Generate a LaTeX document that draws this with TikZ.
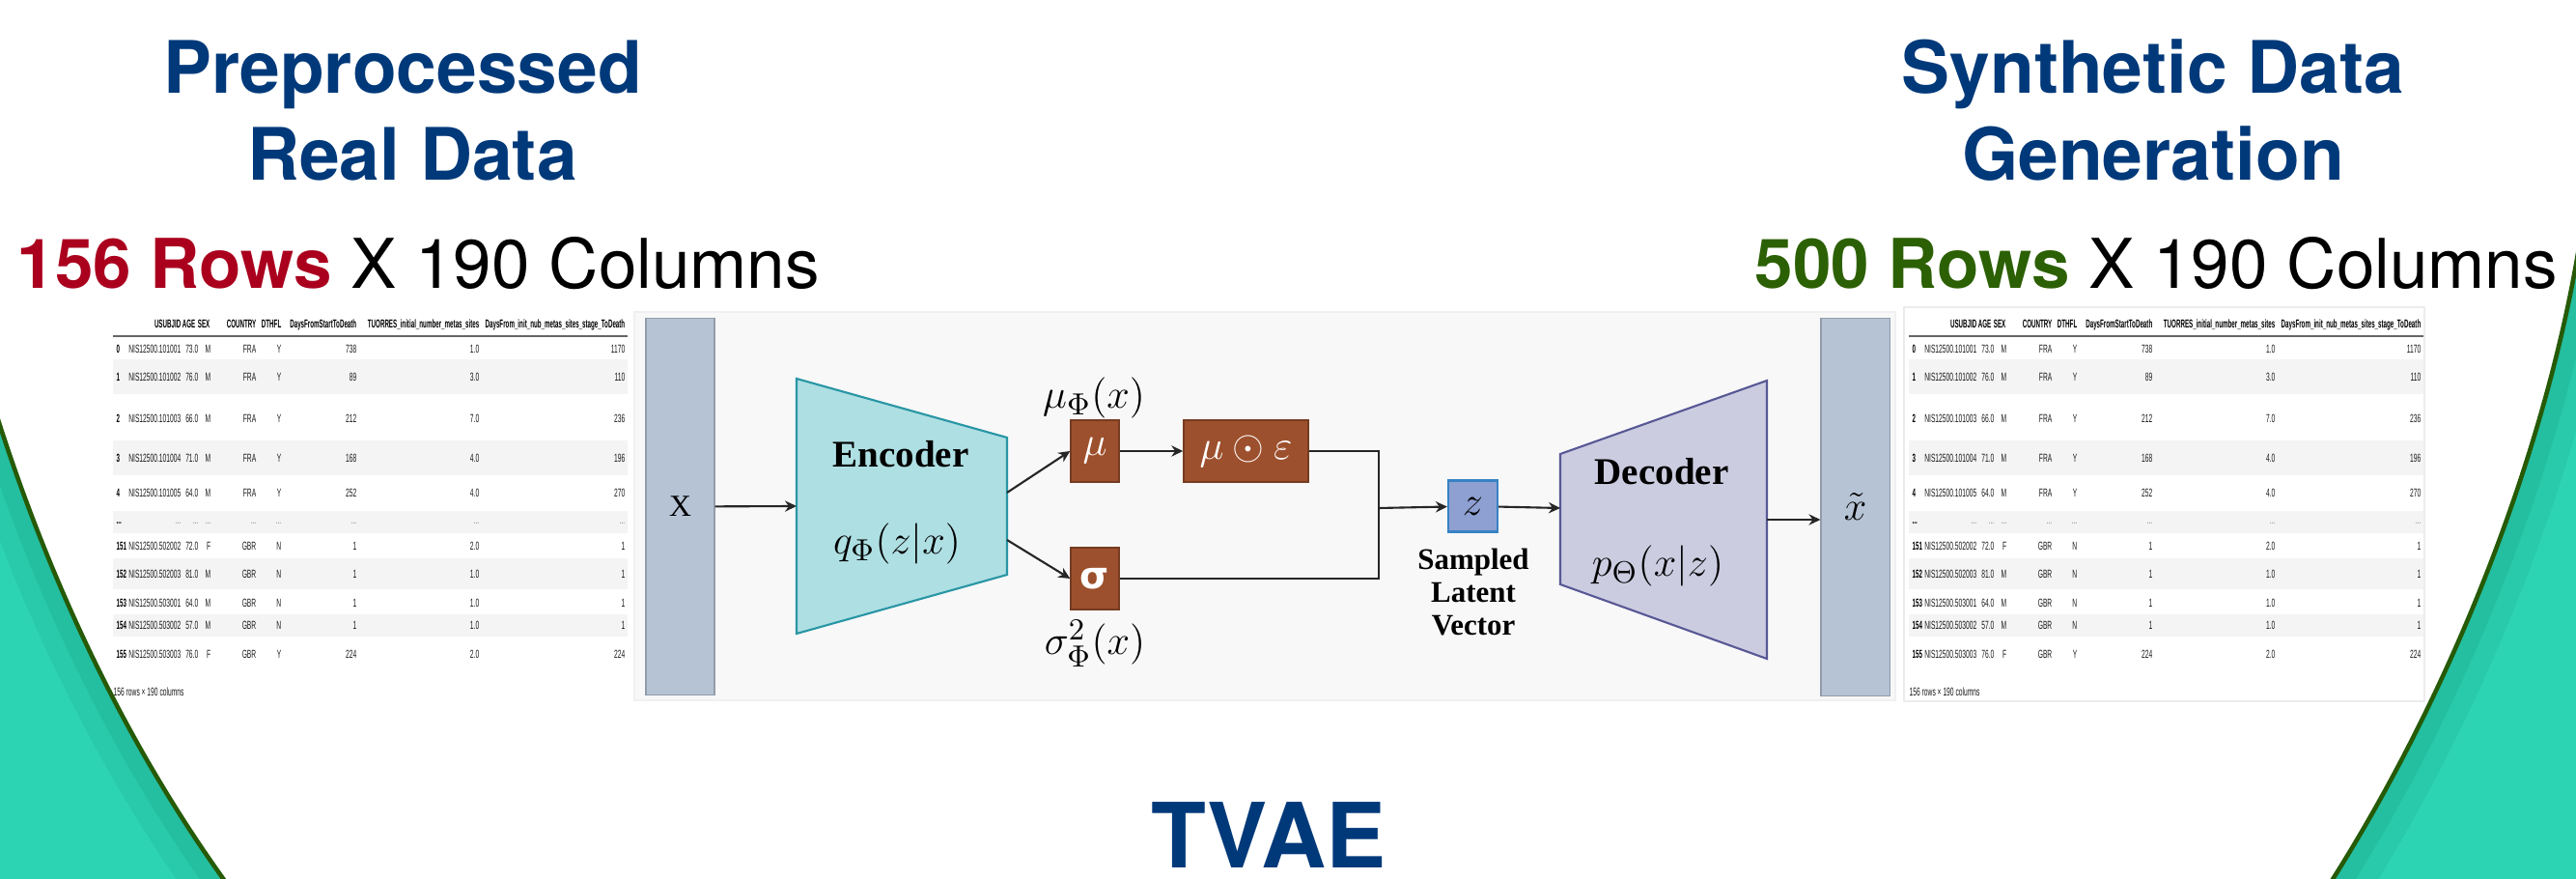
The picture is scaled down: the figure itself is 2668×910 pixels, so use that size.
\documentclass[tikz,border=0pt]{standalone}
\usepackage[no-math]{fontspec}
\usepackage{amsmath}
\usepackage{tikz}
\usetikzlibrary{arrows.meta}

\newfontfamily\heros{TeX Gyre Heros}
\newfontfamily\vaeserif{Liberation Serif}
\newfontfamily\greekbold{DejaVu Sans}
\newfontfamily\tabfont{Liberation Sans}[FakeStretch=0.56]
\newfontfamily\tabhead{Liberation Sans}[FakeStretch=0.52]

\definecolor{titleblue}{RGB}{0,57,122}
\definecolor{realred}{RGB}{170,0,30}
\definecolor{synthgreen}{RGB}{44,96,4}
\definecolor{bgteal}{RGB}{45,212,180}
\definecolor{tealshade}{RGB}{25,160,135}
\definecolor{edgegreen}{RGB}{38,90,6}
\definecolor{barblue}{RGB}{182,195,212}
\definecolor{encfill}{RGB}{174,223,227}
\definecolor{encline}{RGB}{40,150,165}
\definecolor{decfill}{RGB}{204,204,225}
\definecolor{decline}{RGB}{88,88,150}
\definecolor{boxbrown}{RGB}{157,80,45}
\definecolor{zfill}{RGB}{142,160,210}
\definecolor{zline}{RGB}{55,130,195}
\definecolor{stripe}{RGB}{244,244,244}
\definecolor{vaebg}{RGB}{248,248,248}

\begin{document}
\begin{tikzpicture}[x=0.01cm,y=-0.01cm,
  arr/.style={-{Stealth[length=3.4pt,width=3.2pt]},line width=0.6pt,black!85},
  wire/.style={line width=0.6pt,black!85},
  brownbox/.style={draw=boxbrown!75!black,fill=boxbrown,minimum height=0.64cm,inner sep=0pt,text=white,font=\fontsize{12.5}{14}\selectfont},
  databar/.style={draw=barblue!80!black,line width=0.3pt,fill=barblue,minimum width=0.71cm,minimum height=3.9cm,inner sep=0pt},
  mathlbl/.style={inner sep=0pt,font=\fontsize{12.5}{15}\selectfont},
  vaetitle/.style={inner sep=0pt,font=\vaeserif\bfseries\fontsize{11.1}{13}\selectfont},
  bigtitle/.style={inner sep=0pt,anchor=base,text=titleblue,font=\heros\bfseries\fontsize{21.3}{25}\selectfont},
  rowcount/.style={inner sep=0pt,anchor=base west,font=\heros\fontsize{20.2}{24}\selectfont},
  cell/.style={inner sep=0pt,anchor=east,text=black!90,font=\tabfont\fontsize{3.4}{4}\selectfont},
  cellidx/.style={cell,anchor=west,text=black,font=\tabhead\bfseries\fontsize{3.4}{4}\selectfont},
  hdr/.style={cell,anchor=base east,text=black,font=\tabhead\bfseries\fontsize{3.4}{4}\selectfont}]
  \useasboundingbox (0,0) rectangle (2668,910);

  % teal corners
  \begin{scope}
    \clip (-5,425) .. controls (50,600) and (130,770) .. (235,915) -- (-5,915) -- cycle;
    \fill[bgteal] (-5,400) rectangle (240,915);
    \draw[tealshade,opacity=0.2,line width=0.8cm] (-5,425) .. controls (50,600) and (130,770) .. (235,915);
    \draw[tealshade,opacity=0.25,line width=0.4cm] (-5,425) .. controls (50,600) and (130,770) .. (235,915);
  \end{scope}
  \draw[edgegreen,line width=1.3pt] (-5,425) .. controls (50,600) and (130,770) .. (235,915);
  \begin{scope}
    \clip (2672,250) .. controls (2640,450) and (2550,700) .. (2413,915) -- (2672,915) -- cycle;
    \fill[bgteal] (2400,240) rectangle (2672,915);
    \draw[tealshade,opacity=0.2,line width=0.8cm] (2672,250) .. controls (2640,450) and (2550,700) .. (2413,915);
    \draw[tealshade,opacity=0.25,line width=0.4cm] (2672,250) .. controls (2640,450) and (2550,700) .. (2413,915);
  \end{scope}
  \draw[edgegreen,line width=1.3pt] (2672,250) .. controls (2640,450) and (2550,700) .. (2413,915);

  % titles
  \node[bigtitle] (realt1) at (417,97) {Preprocessed};
  \node[bigtitle] (realt2) at (427,187) {Real Data};
  \node[bigtitle] (synt1) at (2230,97) {Synthetic Data};
  \node[bigtitle] (synt2) at (2230,187) {Generation};
  \node[rowcount] (realcount) at (17,299) {{\bfseries\color{realred}156 Rows} X 190 Columns};
  \node[rowcount] (syncount) at (1817,299) {{\bfseries\color{synthgreen}500 Rows} X 190 Columns};
  \node[bigtitle,font=\heros\bfseries\fontsize{26.5}{30}\selectfont] (tvae) at (1314,899) {TVAE};

  % data tables
  \draw[gray!15,line width=0.4pt] (1972,318) rectangle (2511,726);
  \foreach \tx in {0,1860}{
    \begin{scope}[shift={(\tx,0)}]
      \foreach \ya/\yb in {372/408,456/492,529/552,578/610,636/659}
        \fill[stripe] (117,\ya) rectangle (650,\yb);
      \draw[black!60,line width=0.5pt] (117,348) -- (650,348);
      \foreach \cx/\name in {188/USUBJID,203/AGE,218/SEX,266/COUNTRY,292/DTHFL,370/DaysFromStartToDeath,
                              497/TUORRES\_initial\_number\_metas\_sites,648/DaysFrom\_init\_nub\_metas\_sites\_stage\_ToDeath}
        \node[hdr] (h-\tx-\cx) at (\cx,340) {\name};
      \foreach \r/\id/\age/\sex/\cty/\dth/\da/\tu/\db/\y in {
          0/NIS12500.101001/73.0/M/FRA/Y/738/1.0/1170/361,
          1/NIS12500.101002/76.0/M/FRA/Y/89/3.0/110/390,
          2/NIS12500.101003/66.0/M/FRA/Y/212/7.0/236/433,
          3/NIS12500.101004/71.0/M/FRA/Y/168/4.0/196/474,
          4/NIS12500.101005/64.0/M/FRA/Y/252/4.0/270/510,
          151/NIS12500.502002/72.0/F/GBR/N/1/2.0/1/565,
          152/NIS12500.502003/81.0/M/GBR/N/1/1.0/1/594,
          153/NIS12500.503001/64.0/M/GBR/N/1/1.0/1/624,
          154/NIS12500.503002/57.0/M/GBR/N/1/1.0/1/647,
          155/NIS12500.503003/76.0/F/GBR/Y/224/2.0/224/677}{
        \node[cellidx] (i-\tx-\r) at (120,\y) {\r};
        \node[cell] (u-\tx-\r) at (188,\y) {\id};
        \node[cell] (a-\tx-\r) at (206,\y) {\age};
        \node[cell] (s-\tx-\r) at (219,\y) {\sex};
        \node[cell] (c-\tx-\r) at (266,\y) {\cty};
        \node[cell] (d-\tx-\r) at (292,\y) {\dth};
        \node[cell] (f-\tx-\r) at (370,\y) {\da};
        \node[cell] (t-\tx-\r) at (497,\y) {\tu};
        \node[cell] (g-\tx-\r) at (648,\y) {\db};
      }
      \node[cellidx] (i-\tx-dots) at (120,542) {...};
      \foreach \cx in {188,206,219,266,292,370,497,648}
        \node[cell,text=black!50] (e-\tx-\cx) at (\cx,542) {...};
      \node[cell,anchor=west] (foot-\tx) at (117,716) {156 rows × 190 columns};
    \end{scope}
  }

  % TVAE diagram
  \fill[vaebg] (657,323) rectangle (1963,725);
  \draw[gray!12,line width=0.4pt] (657,323) rectangle (1963,725);
  \node[databar,font=\vaeserif\fontsize{9}{10}\selectfont] (xin) at (704.5,524.5) {X};
  \node[databar,font=\fontsize{13}{15}\selectfont] (xout) at (1921.5,525) {$\tilde{x}$};

  \draw[encline,fill=encfill,line width=0.6pt] (825,392) -- (1043,453) -- (1043,595) -- (825,656) -- cycle;
  \coordinate (encin) at (825,524);
  \coordinate (encmu) at (1043,510);
  \coordinate (encsig) at (1043,559);
  \node[vaetitle] (enctxt) at (933,470) {Encoder};
  \node[mathlbl] (encq) at (929,563) {$q_{\Phi}(z|x)$};

  \draw[decline,fill=decfill,line width=0.6pt] (1616,470) -- (1830,394) -- (1830,682) -- (1616,605) -- cycle;
  \coordinate (decin) at (1616,526);
  \coordinate (decout) at (1830,538);
  \node[vaetitle] (dectxt) at (1721,488) {Decoder};
  \node[mathlbl] (decp) at (1717,586) {$p_{\Theta}(x|z)$};

  \node[brownbox,minimum width=0.5cm] (mu) at (1134,467) {$\mu$};
  \node[brownbox,minimum width=1.29cm] (mueps) at (1290.5,467) {$\mu\odot\varepsilon$};
  \node[brownbox,minimum width=0.5cm,font=\greekbold\bfseries\fontsize{11}{13}\selectfont] (sig) at (1134,599) {σ};
  \node[mathlbl] (mulbl) at (1133,412) {$\mu_{\Phi}(x)$};
  \node[mathlbl] (siglbl) at (1134,666) {$\sigma^2_{\Phi}(x)$};

  \node[draw=zline,fill=zfill,line width=0.6pt,minimum width=0.51cm,minimum height=0.53cm,inner sep=0pt,
        font=\fontsize{12.5}{15}\selectfont] (zbox) at (1525.5,524) {$z$};
  \node[inner sep=0pt,align=center,font=\vaeserif\bfseries\fontsize{8.8}{9.6}\selectfont] (zlbl) at (1526,613) {Sampled\\Latent\\Vector};

  \coordinate (join) at (1428,526);
  \draw[arr] (xin) -- (encin);
  \draw[arr] (encmu) -- (mu.west);
  \draw[arr] (encsig) -- (sig.west);
  \draw[arr] (mu) -- (mueps);
  \draw[wire] (mueps.east) -| (join) |- (sig.east);
  \draw[arr] (join) -- (zbox);
  \draw[arr] (zbox) -- (decin);
  \draw[arr] (decout) -- (decout -| xout.west);
\end{tikzpicture}
\end{document}
